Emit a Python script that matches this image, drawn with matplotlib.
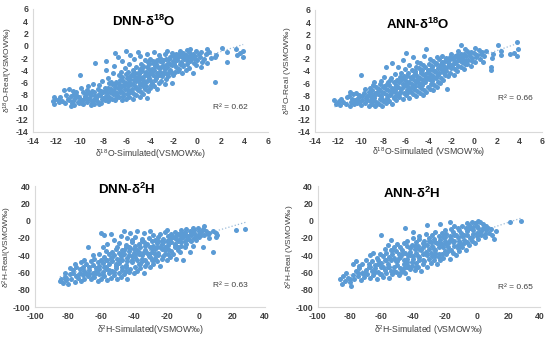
import numpy as np
import matplotlib
matplotlib.use('Agg')
import matplotlib.pyplot as plt

plt.rcParams['font.family'] = ['Liberation Sans', 'DejaVu Sans']
plt.rcParams['mathtext.default'] = 'regular'
plt.rcParams['axes.unicode_minus'] = False

# (simulated, real) pairs
dnn_o18 = [
    (-12.2, -9.5), (-12.3, -9.0), (-12.1, -8.6), (-12.2, -8.3),
    (-11.8, -9.2), (-11.9, -8.8), (-11.7, -8.4),
    (-11.3, -9.3), (-11.2, -8.0), (-11.4, -7.2), (-11.0, -8.6), (-10.9, -7.0),
    (-10.8, -9.8), (-10.7, -9.3), (-10.9, -8.9), (-10.8, -8.2),
    (-10.5, -9.6), (-10.6, -9.0), (-10.4, -8.5), (-10.5, -7.8), (-10.6, -7.3),
    (-10.2, -9.1), (-10.1, -8.4), (-10.3, -7.6),
    (-10.0, -8.8), (-10.0, -4.7), (-9.9, -6.9),
    (-9.7, -9.5), (-9.8, -8.9), (-9.6, -8.1), (-9.7, -7.5),
    (-9.4, -9.2), (-9.3, -8.6), (-9.5, -7.9), (-9.4, -7.2), (-9.3, -6.5),
    (-9.1, -9.6), (-9.0, -9.0), (-9.2, -8.5), (-9.1, -8.0), (-9.0, -7.4),
    (-8.8, -9.4), (-8.9, -8.8), (-8.7, -8.2), (-8.8, -7.6), (-8.7, -2.8), (-8.9, -6.2),
    (-8.5, -9.1), (-8.6, -8.5), (-8.4, -7.9), (-8.5, -7.0), (-8.4, -6.4),
    (-8.2, -9.3), (-8.1, -8.7), (-8.3, -8.0), (-8.2, -7.3), (-8.1, -5.8),
    (-7.9, -8.9), (-7.8, -8.2), (-8.0, -7.5), (-7.9, -6.8), (-7.8, -4.0), (-7.8, -2.5),
    (-7.6, -9.0), (-7.5, -8.3), (-7.7, -7.7), (-7.6, -6.9), (-7.5, -6.0), (-7.6, -5.2),
    (-7.3, -8.6), (-7.2, -7.9), (-7.4, -7.1), (-7.3, -6.3), (-7.2, -4.5),
    (-7.0, -8.8), (-6.9, -8.0), (-7.1, -7.4), (-7.0, -6.7), (-6.9, -5.9), (-7.0, -1.2), (-7.1, -3.3),
    (-6.7, -8.4), (-6.6, -7.6), (-6.8, -6.9), (-6.7, -6.2), (-6.6, -5.5), (-6.8, -1.8), (-6.7, -4.8),
    (-6.4, -8.9), (-6.3, -8.2), (-6.5, -7.3), (-6.4, -6.5), (-6.3, -5.8), (-6.5, -4.2), (-6.4, -2.5),
    (-6.1, -8.6), (-6.0, -7.8), (-6.2, -7.0), (-6.1, -6.1), (-6.0, -5.3), (-6.2, -3.6), (-6.1, -0.8),
    (-5.8, -8.3), (-5.7, -7.5), (-5.9, -6.6), (-5.8, -5.9), (-5.7, -5.0), (-5.9, -4.3), (-5.8, -3.0), (-5.7, -1.5),
    (-5.5, -8.7), (-5.4, -7.9), (-5.6, -7.1), (-5.5, -6.3), (-5.4, -5.6), (-5.6, -4.8), (-5.5, -4.0), (-5.4, -2.2),
    (-5.2, -8.0), (-5.1, -7.2), (-5.3, -6.5), (-5.2, -5.8), (-5.1, -5.1), (-5.3, -4.4), (-5.2, -3.5), (-5.1, -1.0),
    (-4.9, -8.4), (-4.8, -7.5), (-5.0, -6.8), (-4.9, -6.0), (-4.8, -5.3), (-5.0, -4.6), (-4.9, -3.8), (-4.8, -3.0), (-4.9, -1.6),
    (-4.6, -7.8), (-4.5, -7.0), (-4.7, -6.2), (-4.6, -5.5), (-4.5, -4.8), (-4.7, -4.1), (-4.6, -3.3), (-4.5, -2.4),
    (-4.3, -8.5), (-4.2, -7.3), (-4.4, -6.5), (-4.3, -5.7), (-4.2, -5.0), (-4.4, -4.2), (-4.3, -3.5), (-4.2, -2.7), (-4.3, -1.3),
    (-4.0, -6.9), (-3.9, -6.0), (-4.1, -5.2), (-4.0, -4.5), (-3.9, -3.8), (-4.1, -3.0), (-4.0, -2.2),
    (-3.7, -6.5), (-3.6, -5.6), (-3.8, -4.8), (-3.7, -4.0), (-3.6, -3.3), (-3.8, -2.5), (-3.7, -1.0),
    (-3.4, -7.0), (-3.3, -6.1), (-3.5, -5.3), (-3.4, -4.5), (-3.3, -3.7), (-3.5, -3.0), (-3.4, -2.3), (-3.3, -1.5),
    (-3.1, -5.8), (-3.0, -4.9), (-3.2, -4.2), (-3.1, -3.4), (-3.0, -2.7), (-3.2, -2.0),
    (-2.8, -6.3), (-2.7, -5.4), (-2.9, -4.6), (-2.8, -3.8), (-2.7, -3.1), (-2.9, -2.4), (-2.8, -1.4),
    (-2.5, -5.0), (-2.4, -4.2), (-2.6, -3.5), (-2.5, -2.8), (-2.4, -2.1), (-2.6, -0.8),
    (-2.2, -6.0), (-2.1, -4.7), (-2.3, -3.9), (-2.2, -3.2), (-2.1, -2.5), (-2.3, -1.8), (-2.2, -1.2),
    (-1.9, -4.3), (-1.8, -3.4), (-2.0, -2.7), (-1.9, -2.0), (-1.8, -1.4),
    (-1.6, -3.8), (-1.5, -3.0), (-1.7, -2.3), (-1.6, -1.6), (-1.5, -0.9),
    (-1.3, -4.4), (-1.2, -3.3), (-1.4, -2.6), (-1.3, -1.9), (-1.2, -1.2),
    (-1.0, -3.9), (-0.9, -2.9), (-1.1, -2.1), (-1.0, -1.5), (-0.9, -0.7),
    (-0.7, -3.6), (-0.6, -2.5), (-0.8, -1.8), (-0.7, -1.1), (-0.6, -0.5),
    (-0.4, -4.5), (-0.3, -2.8), (-0.5, -2.0), (-0.4, -1.3),
    (-0.1, -3.2), (0.0, -2.3), (-0.2, -1.6), (-0.1, -0.9),
    (0.3, -3.5), (0.4, -2.6), (0.2, -1.8), (0.3, -1.0),
    (0.8, -2.8), (0.7, -1.4), (0.8, -0.6), (1.2, -2.0),
    (1.5, -5.9), (1.5, -1.8), (1.6, -1.5), (2.1, -0.3), (2.5, -1.0), (2.5, -2.7),
    (3.3, -0.6), (3.4, -1.5), (3.6, -1.2), (3.9, -0.9), (3.9, -1.8),
    (-11.55, -8.95), (-10.35, -8.05), (-9.85, -9.25), (-9.55, -8.35), (-9.25, -7.65),
    (-8.95, -9.25), (-8.65, -8.75), (-8.35, -9.45), (-8.25, -7.65), (-8.05, -8.45),
    (-7.75, -7.25), (-7.45, -7.55), (-7.35, -5.85), (-7.05, -6.15), (-6.85, -7.65),
    (-6.55, -6.85), (-6.45, -5.05), (-6.25, -6.45), (-6.05, -4.55), (-5.95, -7.15),
    (-5.75, -5.45), (-5.65, -6.25), (-5.45, -4.45), (-5.35, -5.15), (-5.25, -6.85),
    (-5.05, -5.55), (-4.95, -4.25), (-4.85, -6.45), (-4.75, -3.55), (-4.65, -5.05),
    (-4.45, -5.95), (-4.35, -4.65), (-4.15, -3.85), (-4.05, -5.65), (-3.85, -4.35),
    (-3.75, -2.85), (-3.55, -5.05), (-3.45, -3.35), (-3.25, -4.75), (-3.15, -2.45),
    (-2.95, -3.25), (-2.85, -4.25), (-2.65, -2.15), (-2.55, -4.55), (-2.35, -2.95),
    (-2.25, -4.35), (-2.05, -1.55), (-1.95, -3.05), (-1.75, -2.05), (-1.65, -4.15),
    (-1.45, -1.25), (-1.35, -2.95), (-1.15, -1.75), (-0.85, -2.35), (-0.55, -1.45),
    (-0.25, -2.05), (0.15, -1.35), (0.55, -2.15), (0.95, -1.05), (-6.95, -8.45),
    (-7.65, -8.65), (-8.55, -8.15), (-9.65, -8.65), (-10.05, -9.35), (-5.55, -7.45),
    (-4.55, -6.65), (-3.95, -6.45), (-6.35, -7.75),
]

ann_o18 = [
    (-12.2, -9.5), (-12.1, -9.2), (-12.3, -8.8),
    (-11.8, -9.6), (-11.9, -9.0), (-11.7, -8.6), (-11.3, -9.4), (-11.2, -8.3),
    (-10.9, -9.8), (-10.8, -9.1), (-11.0, -8.2), (-10.9, -7.5),
    (-10.6, -9.5), (-10.5, -8.8), (-10.7, -7.8),
    (-10.3, -9.2), (-10.2, -8.5), (-10.4, -7.6),
    (-10.0, -9.6), (-9.9, -8.7), (-10.1, -7.9), (-10.0, -4.6),
    (-9.6, -9.3), (-9.5, -8.5), (-9.7, -7.7), (-9.6, -7.0),
    (-9.3, -9.8), (-9.2, -9.0), (-9.4, -8.2), (-9.3, -7.4), (-9.2, -6.8),
    (-9.0, -9.5), (-8.9, -8.7), (-9.1, -7.9), (-9.0, -7.2), (-8.9, -6.3),
    (-8.7, -9.7), (-8.6, -9.1), (-8.8, -8.4), (-8.7, -7.6), (-8.6, -6.6), (-8.8, -5.8),
    (-8.4, -9.4), (-8.3, -8.6), (-8.5, -7.8), (-8.4, -7.0), (-8.3, -6.2),
    (-8.1, -9.8), (-8.0, -8.9), (-8.2, -8.2), (-8.1, -7.4), (-8.0, -6.6), (-8.2, -5.6),
    (-7.8, -9.3), (-7.7, -8.5), (-7.9, -7.7), (-7.8, -6.9), (-7.7, -6.1), (-7.8, -3.3), (-7.9, -5.0),
    (-7.5, -8.9), (-7.4, -8.0), (-7.6, -7.2), (-7.5, -6.4), (-7.4, -5.5),
    (-7.2, -9.4), (-7.1, -8.5), (-7.3, -7.6), (-7.2, -6.8), (-7.1, -5.9), (-7.3, -5.1), (-7.2, -2.7),
    (-6.9, -8.7), (-6.8, -7.9), (-7.0, -7.1), (-6.9, -6.3), (-6.8, -5.5), (-7.0, -4.5),
    (-6.6, -8.3), (-6.5, -7.4), (-6.7, -6.6), (-6.6, -5.8), (-6.5, -5.0), (-6.7, -3.3),
    (-6.3, -8.6), (-6.2, -7.7), (-6.4, -6.9), (-6.3, -6.1), (-6.2, -5.3), (-6.4, -4.4), (-6.3, -2.3),
    (-6.0, -8.0), (-5.9, -7.2), (-6.1, -6.4), (-6.0, -5.6), (-5.9, -4.8), (-6.1, -3.7), (-6.0, -1.0),
    (-5.7, -8.4), (-5.6, -7.5), (-5.8, -6.7), (-5.7, -5.9), (-5.6, -5.1), (-5.8, -4.3), (-5.7, -3.0),
    (-5.4, -7.8), (-5.3, -7.0), (-5.5, -6.2), (-5.4, -5.4), (-5.3, -4.6), (-5.5, -3.8), (-5.4, -1.8),
    (-5.1, -8.1), (-5.0, -7.3), (-5.2, -6.5), (-5.1, -5.7), (-5.0, -4.9), (-5.2, -4.1), (-5.1, -3.3), (-5.0, -2.5),
    (-4.8, -7.6), (-4.7, -6.8), (-4.9, -6.0), (-4.8, -5.2), (-4.7, -4.4), (-4.9, -3.6), (-4.8, -2.7),
    (-4.5, -7.9), (-4.4, -7.1), (-4.6, -6.3), (-4.5, -5.5), (-4.4, -4.7), (-4.6, -3.9), (-4.5, -3.0), (-4.4, -1.5),
    (-4.2, -7.4), (-4.1, -6.6), (-4.3, -5.8), (-4.2, -5.0), (-4.1, -4.2), (-4.3, -3.4), (-4.2, -0.4),
    (-3.9, -6.9), (-3.8, -6.1), (-4.0, -5.3), (-3.9, -4.5), (-3.8, -3.7), (-4.0, -2.9), (-3.9, -2.0),
    (-3.6, -7.2), (-3.5, -6.4), (-3.7, -5.6), (-3.6, -4.8), (-3.5, -4.0), (-3.7, -3.2), (-3.6, -2.4),
    (-3.3, -6.7), (-3.2, -5.9), (-3.4, -5.1), (-3.3, -4.3), (-3.2, -3.5), (-3.4, -2.7), (-3.3, -1.7),
    (-3.0, -6.0), (-2.9, -5.2), (-3.1, -4.4), (-3.0, -3.6), (-2.9, -2.8), (-3.1, -2.1),
    (-2.7, -5.5), (-2.6, -4.7), (-2.8, -3.9), (-2.7, -3.1), (-2.6, -2.4), (-2.8, -1.6),
    (-2.4, -7.0), (-2.3, -4.9), (-2.5, -4.1), (-2.4, -3.3), (-2.3, -2.6), (-2.5, -1.9),
    (-2.1, -4.4), (-2.0, -3.6), (-2.2, -2.8), (-2.1, -2.1), (-2.0, -1.3),
    (-1.8, -4.6), (-1.7, -3.7), (-1.9, -2.9), (-1.8, -2.2), (-1.7, -1.5),
    (-1.5, -4.0), (-1.4, -3.2), (-1.6, -2.5), (-1.5, -1.7), (-1.4, -0.8),
    (-1.2, -3.4), (-1.1, -2.6), (-1.3, -1.9), (-1.2, -1.2), (-1.2, 0.3),
    (-0.9, -3.7), (-0.8, -2.8), (-1.0, -2.0), (-0.9, -1.3), (-0.8, -0.5),
    (-0.6, -2.9), (-0.5, -2.2), (-0.7, -1.5), (-0.6, -0.7),
    (-0.3, -3.2), (-0.2, -2.4), (-0.4, -1.6), (-0.3, -0.9),
    (0.1, -2.6), (0.2, -1.8), (0.0, -1.0), (0.1, -0.3),
    (0.5, -2.1), (0.6, -1.3), (0.4, -0.6), (0.9, -1.6), (1.0, -0.8),
    (1.5, -3.8), (1.5, -3.3), (1.6, -1.9), (1.7, -1.2), (2.1, 0.2),
    (2.4, -0.8), (2.4, -1.4), (3.2, -1.3), (3.5, -1.0),
    (3.8, 0.7), (3.9, -0.5), (3.8, -1.5),
    (-11.55, -9.15), (-10.75, -8.55), (-10.15, -9.05), (-9.85, -8.15), (-9.45, -8.75),
    (-9.15, -7.65), (-8.85, -8.05), (-8.55, -9.25), (-8.45, -7.35), (-8.15, -8.55),
    (-7.95, -6.45), (-7.65, -7.95), (-7.55, -5.85), (-7.25, -7.25), (-7.05, -8.25),
    (-6.85, -6.65), (-6.65, -7.85), (-6.45, -5.45), (-6.25, -6.65), (-6.15, -4.85),
    (-5.85, -6.05), (-5.75, -7.05), (-5.55, -5.05), (-5.45, -6.65), (-5.25, -4.35),
    (-5.15, -5.85), (-4.95, -5.35), (-4.85, -6.45), (-4.65, -4.05), (-4.55, -5.95),
    (-4.35, -4.45), (-4.25, -5.35), (-4.05, -3.85), (-3.95, -4.95), (-3.75, -3.45),
    (-3.65, -5.25), (-3.45, -3.95), (-3.35, -2.95), (-3.15, -4.65), (-3.05, -3.25),
    (-2.85, -2.55), (-2.75, -4.25), (-2.55, -3.55), (-2.45, -2.15), (-2.25, -3.05),
    (-2.15, -1.75), (-1.95, -3.35), (-1.85, -1.95), (-1.65, -2.75), (-1.55, -1.35),
    (-1.35, -2.15), (-1.05, -1.65), (-0.75, -2.45), (-0.45, -1.15), (-0.15, -1.95),
    (0.25, -1.45), (0.65, -0.95), (0.75, -2.55), (-6.95, -7.45), (-7.85, -8.95),
    (-9.05, -8.35), (-5.95, -7.65),
]

dnn_h2 = [
    (-85, -70), (-84, -67), (-83, -72), (-82, -65), (-82, -61),
    (-80, -73), (-81, -69), (-79, -62), (-78, -68), (-77, -60), (-79, -55),
    (-76, -71), (-75, -64), (-77, -57), (-76, -50),
    (-74, -66), (-73, -60), (-75, -54),
    (-72, -70), (-71, -63), (-73, -56), (-72, -48),
    (-70, -67), (-69, -60), (-71, -53), (-70, -45),
    (-68, -64), (-67, -57), (-69, -50), (-68, -30),
    (-66, -68), (-65, -61), (-67, -54), (-66, -47), (-65, -40),
    (-64, -65), (-63, -58), (-65, -51), (-64, -44),
    (-62, -70), (-61, -62), (-63, -55), (-62, -48), (-61, -38),
    (-60, -67), (-59, -59), (-61, -52), (-60, -45), (-59, -30), (-60, -14),
    (-58, -64), (-57, -56), (-59, -49), (-58, -42), (-57, -35), (-58, -17),
    (-56, -69), (-55, -61), (-57, -53), (-56, -46), (-55, -39), (-56, -27),
    (-54, -66), (-53, -58), (-55, -50), (-54, -43), (-53, -36), (-54, -15),
    (-52, -63), (-51, -55), (-53, -47), (-52, -40), (-51, -33), (-52, -22),
    (-50, -68), (-49, -60), (-51, -52), (-50, -44), (-49, -37), (-50, -30),
    (-48, -65), (-47, -57), (-49, -49), (-48, -41), (-47, -34), (-49, -26), (-48, -18),
    (-46, -62), (-45, -54), (-47, -46), (-46, -38), (-45, -31), (-46, -12),
    (-44, -67), (-43, -59), (-45, -51), (-44, -43), (-43, -35), (-45, -28), (-44, -20),
    (-42, -56), (-41, -48), (-43, -40), (-42, -32), (-41, -25), (-42, -14),
    (-40, -61), (-39, -53), (-41, -45), (-40, -37), (-39, -29), (-41, -22),
    (-38, -58), (-37, -50), (-39, -42), (-38, -34), (-37, -27), (-39, -19), (-38, -12),
    (-36, -55), (-35, -47), (-37, -39), (-36, -31), (-35, -24),
    (-34, -60), (-33, -52), (-35, -44), (-34, -36), (-33, -29), (-35, -21), (-34, -14),
    (-32, -49), (-31, -41), (-33, -34), (-32, -27), (-31, -20),
    (-30, -54), (-29, -46), (-31, -38), (-30, -31), (-29, -24), (-30, -12),
    (-28, -50), (-27, -43), (-29, -36), (-28, -29), (-27, -22), (-28, -16),
    (-26, -47), (-25, -40), (-27, -33), (-26, -26), (-25, -19),
    (-24, -52), (-23, -44), (-25, -37), (-24, -30), (-23, -23), (-24, -15),
    (-22, -41), (-21, -34), (-23, -27), (-22, -21), (-21, -13),
    (-20, -45), (-19, -38), (-21, -31), (-20, -24), (-19, -18), (-20, -11),
    (-18, -42), (-17, -35), (-19, -28), (-18, -21), (-17, -15),
    (-16, -38), (-15, -31), (-17, -25), (-16, -19), (-15, -13),
    (-14, -44), (-13, -34), (-15, -27), (-14, -21), (-13, -15),
    (-12, -36), (-11, -29), (-13, -23), (-12, -17), (-11, -11),
    (-10, -45), (-9, -31), (-11, -25), (-10, -19), (-9, -13),
    (-8, -27), (-7, -21), (-9, -15), (-8, -10),
    (-6, -36), (-5, -24), (-7, -18), (-6, -12),
    (-4, -29), (-3, -20), (-5, -14), (-4, -9),
    (-2, -22), (-1, -16), (-3, -11), (0, -19), (1, -13), (-1, -8),
    (2, -30), (3, -17), (2, -10), (3, -6), (5, -15), (6, -20),
    (8, -36), (8, -12), (10, -14), (10, -19), (11, -16), (22, -11), (28, -10),
    (-81, -66), (-74, -63), (-70, -58), (-67, -62), (-63, -61), (-61, -56),
    (-58, -53), (-57, -46), (-55, -57), (-53, -42), (-51, -50), (-49, -45),
    (-47, -53), (-46, -34), (-44, -47), (-43, -31), (-41, -41), (-40, -33),
    (-38, -46), (-37, -36), (-35, -40), (-34, -25), (-33, -45), (-32, -37),
    (-30, -42), (-29, -33), (-27, -38), (-26, -30), (-25, -23), (-23, -33),
    (-22, -25), (-21, -38), (-19, -33), (-18, -25), (-17, -19), (-15, -28),
    (-14, -18), (-13, -30), (-12, -21), (-11, -14), (-9, -23), (-8, -18),
    (-6, -22), (-5, -16), (-3, -14), (-2, -18), (0, -12), (1, -16),
    (4, -12), (6, -14), (-65, -65), (-59, -63), (-52, -59), (-45, -58),
    (-36, -50), (-28, -46), (-48, -38), (-39, -38),
]

ann_h2 = [
    (-85, -73), (-86, -68), (-83, -70), (-84, -64), (-81, -66), (-82, -61),
    (-79, -75), (-80, -71), (-78, -63), (-77, -67), (-76, -58), (-78, -50),
    (-75, -64), (-74, -55), (-76, -47),
    (-73, -69), (-72, -60), (-74, -52), (-71, -65), (-70, -57), (-72, -50),
    (-69, -62), (-68, -54), (-70, -46),
    (-67, -66), (-66, -58), (-68, -50), (-67, -40),
    (-65, -63), (-64, -55), (-66, -47), (-65, -37),
    (-63, -67), (-62, -59), (-64, -51), (-63, -43),
    (-61, -62), (-60, -54), (-62, -46), (-61, -38), (-60, -16),
    (-59, -65), (-58, -57), (-60, -49), (-59, -41), (-58, -33),
    (-57, -61), (-56, -53), (-58, -45), (-57, -37), (-56, -28),
    (-55, -66), (-54, -58), (-56, -50), (-55, -42), (-54, -34),
    (-53, -62), (-52, -54), (-54, -46), (-53, -38), (-52, -30), (-54, -22),
    (-51, -59), (-50, -51), (-52, -43), (-51, -35), (-50, -27),
    (-49, -63), (-48, -55), (-50, -47), (-49, -39), (-48, -31),
    (-47, -58), (-46, -50), (-48, -42), (-47, -34), (-46, -26),
    (-45, -61), (-44, -53), (-46, -45), (-45, -37), (-44, -29), (-45, -8),
    (-43, -66), (-42, -56), (-44, -48), (-43, -40), (-42, -32), (-44, -24),
    (-41, -52), (-40, -44), (-42, -36), (-41, -28), (-40, -20),
    (-39, -57), (-38, -49), (-40, -41), (-39, -33), (-38, -25), (-40, -13),
    (-37, -53), (-36, -45), (-38, -37), (-37, -29), (-36, -21),
    (-35, -58), (-34, -50), (-36, -42), (-35, -34), (-34, -26), (-36, -18),
    (-33, -47), (-32, -39), (-34, -31), (-33, -23), (-32, -15),
    (-31, -53), (-30, -44), (-32, -36), (-31, -28), (-30, -20), (-31, -5),
    (-29, -49), (-28, -41), (-30, -33), (-29, -25), (-28, -17),
    (-27, -45), (-26, -37), (-28, -29), (-27, -21), (-26, -13),
    (-25, -50), (-24, -42), (-26, -34), (-25, -26), (-24, -18),
    (-23, -46), (-22, -38), (-24, -30), (-23, -22), (-22, -14), (-23, -4),
    (-21, -43), (-20, -35), (-22, -27), (-21, -19), (-20, -11),
    (-19, -39), (-18, -31), (-20, -23), (-19, -15),
    (-17, -44), (-16, -34), (-18, -26), (-17, -18), (-16, -10), (-17, -2),
    (-15, -37), (-14, -29), (-16, -21), (-15, -13), (-14, -6),
    (-13, -40), (-12, -32), (-14, -24), (-13, -16), (-12, -8),
    (-11, -35), (-10, -27), (-12, -19), (-11, -11),
    (-9, -30), (-8, -22), (-10, -14), (-9, -6),
    (-7, -34), (-6, -25), (-8, -17), (-7, -9), (-6, -3),
    (-5, -28), (-4, -20), (-6, -12), (-5, -5),
    (-3, -23), (-2, -15), (-4, -8), (-3, -2),
    (-1, -26), (0, -18), (-2, -11), (-1, -3),
    (1, -21), (2, -13), (0, -6), (1, 0),
    (3, -16), (4, -9), (2, -2), (5, -19), (6, -11), (4, -4),
    (8, -14), (7, -8), (10, -17), (9, -10), (11, -21), (12, -12),
    (21, -1), (28, 0),
    (-80, -68), (-75, -60), (-71, -61), (-67, -54), (-64, -59), (-62, -50),
    (-59, -53), (-57, -45), (-55, -54), (-53, -34), (-51, -47), (-49, -43),
    (-47, -38), (-46, -55), (-44, -44), (-42, -40), (-41, -48), (-39, -29),
    (-37, -41), (-36, -33), (-34, -38), (-33, -27), (-31, -40), (-30, -24),
    (-29, -37), (-27, -33), (-26, -25), (-24, -38), (-23, -26), (-21, -31),
    (-20, -19), (-18, -35), (-17, -22), (-15, -25), (-14, -17), (-12, -28),
    (-11, -23), (-9, -18), (-8, -26), (-6, -16), (-5, -9), (-3, -19),
    (-2, -7), (0, -14), (1, -9), (3, -12), (5, -15), (6, -6),
    (-60, -62), (-52, -58), (-43, -52), (-34, -46), (-26, -41), (-19, -27),
    (-48, -60), (-38, -53),
]

titles = [r'DNN-δ$^{18}$O', r'ANN-δ$^{18}$O', r'DNN-δ$^{2}$H', r'ANN-δ$^{2}$H']
r2_labels = ['R² = 0.62', 'R² = 0.66', 'R² = 0.63', 'R² = 0.65']
xlabels = [r'δ$^{18}$O-Simulated(VSMOW‰)', r'δ$^{18}$O-Simulated (VSMOW‰)',
           r'δ$^{2}$H-Simulated(VSMOW‰)', r'δ$^{2}$H-Simulated (VSMOW‰)']
ylabels = [r'δ$^{18}$O-Real(VSMOW‰)', r'δ$^{18}$O-Real (VSMOW‰)',
           r'δ$^{2}$H-Real(VSMOW‰)', r'δ$^{2}$H-Real (VSMOW‰)']
o18_ticks = [-14, -12, -10, -8, -6, -4, -2, 0, 2, 4, 6]
h2_xticks = [-100, -80, -60, -40, -20, 0, 20, 40]
h2_yticks = [-100, -80, -60, -40, -20, 0, 20, 40]

datasets = [dnn_o18, ann_o18, dnn_h2, ann_h2]
axes_pos = [
    [0.060, 0.611, 0.427, 0.363],
    [0.573, 0.611, 0.413, 0.360],
    [0.064, 0.094, 0.418, 0.357],
    [0.578, 0.094, 0.404, 0.357],
]
title_pos = [(0.47, 0.90), (0.45, 0.88), (0.40, 0.97), (0.42, 0.94)]
r2_pos = [(0.84, 0.20), (0.88, 0.27), (0.85, 0.18), (0.89, 0.16)]
ylabel_x = [-0.107, -0.12, -0.12, -0.125]
xlabel_y = [-0.18, -0.17, -0.19, -0.19]

dot_color = '#5b9bd5'
fig = plt.figure(figsize=(5.5, 3.39), dpi=100)

for i, pts in enumerate(datasets):
    ax = fig.add_axes(axes_pos[i])
    arr = np.array(pts, dtype=float)
    x, y = arr[:, 0], arr[:, 1]
    ax.scatter(x, y, s=13, color=dot_color, linewidths=0, zorder=3)

    # linear trendline like Excel
    k, b = np.polyfit(x, y, 1)
    xs = np.array([x.min(), x.max()])
    ax.plot(xs, k * xs + b, linestyle=':', color='#9bbbd9', lw=0.9, zorder=2)

    if i < 2:
        ax.set_xlim(-14, 6)
        ax.set_ylim(-14, 6)
        ax.set_xticks(o18_ticks)
        ax.set_yticks(o18_ticks)
    else:
        ax.set_xlim(-100, 40)
        ax.set_ylim(-100, 40)
        ax.set_xticks(h2_xticks)
        ax.set_yticks(h2_yticks)

    for side in ['top', 'right']:
        ax.spines[side].set_visible(False)
    for side in ['left', 'bottom']:
        ax.spines[side].set_color('#d9d9d9')
        ax.spines[side].set_linewidth(0.8)
    ax.tick_params(length=0, labelsize=6.3, colors='#404040', pad=3.5)
    for lab in ax.get_xticklabels() + ax.get_yticklabels():
        lab.set_fontweight('bold')

    ax.set_xlabel(xlabels[i], fontsize=6.3, color='#404040', va='center')
    ax.set_ylabel(ylabels[i], fontsize=6.0, color='#404040', va='center')
    ax.xaxis.set_label_coords(0.5, xlabel_y[i])
    ax.yaxis.set_label_coords(ylabel_x[i], 0.5)

    ax.text(title_pos[i][0], title_pos[i][1], titles[i], transform=ax.transAxes,
            ha='center', va='center', fontsize=9.5, fontweight='bold', color='black')
    ax.text(r2_pos[i][0], r2_pos[i][1], r2_labels[i], transform=ax.transAxes,
            ha='center', va='center', fontsize=6, color='#404040')

fig.savefig('out.png', dpi=100)
